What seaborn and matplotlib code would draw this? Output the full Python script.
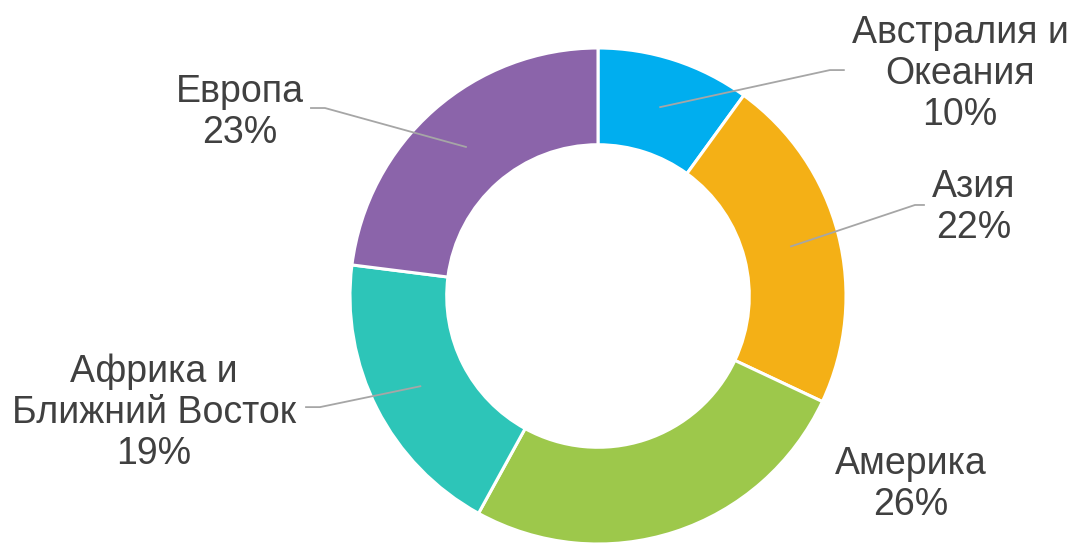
import numpy as np
import matplotlib
matplotlib.use("Agg")
import matplotlib.pyplot as plt
import seaborn as sns

categories = ["Австралия и\nОкеания", "Азия", "Америка", "Африка и\nБлижний Восток", "Европа"]
values = [10, 22, 26, 19, 23]
colors = ["#00AEEF", "#F4B016", "#9DC84B", "#2DC5B8", "#8B64AA"]

# label centers (data units, radius = 1) and whether a leader line is drawn
label_pos = [(1.46, 0.897), (1.515, 0.355), (1.26, -0.76), (-1.79, -0.472), (-1.445, 0.74)]
leader_end = [(0.935, 0.911), (1.278, 0.367), None, (-1.121, -0.448), (-1.101, 0.758)]
leader_tail = [0.06, 0.04, 0, -0.06, -0.06]

sns.set_theme(style="white")
plt.rcParams["font.family"] = ["Liberation Sans", "DejaVu Sans"]

fig = plt.figure(figsize=(10.75, 5.43), dpi=100)
ax = fig.add_axes([0, 0, 1, 1])

cx_px, cy_px, R_px = 598, 296, 248
W, H = 1075, 543

wedges, _ = ax.pie(values, colors=colors, startangle=90, counterclock=False,
                   radius=1.0, center=(0, 0), frame=True,
                   wedgeprops=dict(width=0.39, edgecolor="white", linewidth=2.2))
ax.set_xlim(-cx_px / R_px, (W - cx_px) / R_px)
ax.set_ylim(-(H - cy_px) / R_px, cy_px / R_px)
ax.set_aspect("equal")
ax.axis("off")

total = sum(values)
for i, (cat, v) in enumerate(zip(categories, values)):
    w = wedges[i]
    mid = np.deg2rad((w.theta1 + w.theta2) / 2)
    if leader_end[i] is not None:
        sx, sy = 0.8 * np.cos(mid), 0.8 * np.sin(mid)
        ex, ey = leader_end[i]
        ax.plot([sx, ex, ex + leader_tail[i]], [sy, ey, ey], color="#A6A6A6", lw=1.3,
                solid_capstyle="butt", zorder=5)
    lx, ly = label_pos[i]
    ax.text(lx, ly, f"{cat}\n{round(v / total * 100)}%", ha="center", va="center",
            fontsize=27, color="#404040", linespacing=1.18)

fig.savefig("out.png", dpi=100, facecolor="white")
